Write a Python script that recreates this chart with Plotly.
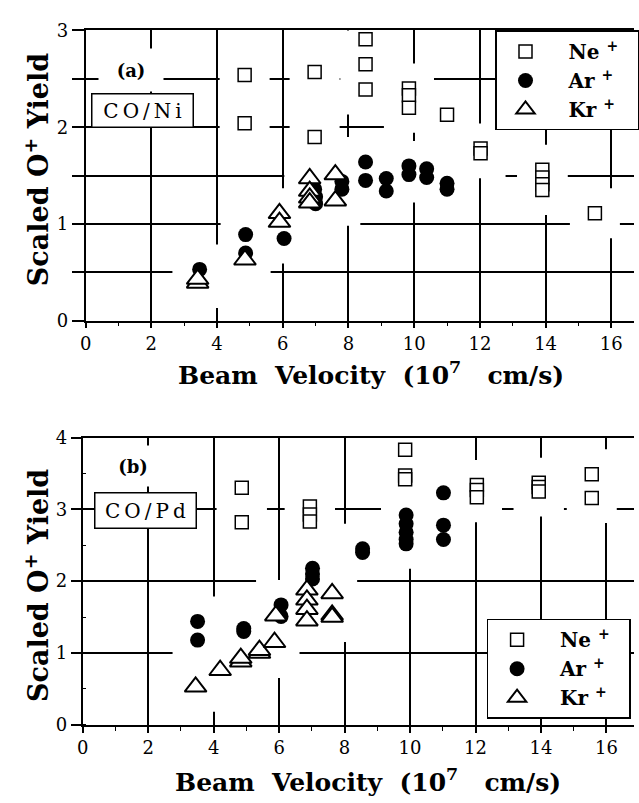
import plotly.graph_objects as go

W, H = 639, 803

# ---------------- data: panel (a) CO/Ni ----------------
ne_a_x = [4.84, 4.84, 6.97, 6.97, 8.52, 8.52, 8.52, 9.84, 9.84, 9.84, 11.0, 12.02, 12.02, 13.9, 13.9, 13.9, 13.9, 15.5]
ne_a_y = [2.54, 2.04, 2.57, 1.90, 2.91, 2.65, 2.39, 2.40, 2.33, 2.20, 2.13, 1.78, 1.73, 1.56, 1.48, 1.41, 1.35, 1.11]

ar_a_x = [3.47, 4.87, 4.87, 6.04, 6.97, 7.0, 7.0, 7.8, 7.8, 8.52, 8.52, 9.15, 9.15, 9.84, 9.84, 10.38, 10.38, 11.0, 11.0]
ar_a_y = [0.53, 0.89, 0.70, 0.85, 1.36, 1.28, 1.21, 1.44, 1.36, 1.64, 1.45, 1.47, 1.34, 1.60, 1.51, 1.57, 1.48, 1.42, 1.36]

kr_a_x = [3.41, 3.41, 4.85, 5.9, 5.9, 6.82, 6.82, 6.82, 6.82, 7.6, 7.6]
kr_a_y = [0.39, 0.43, 0.63, 1.11, 1.02, 1.47, 1.34, 1.27, 1.22, 1.51, 1.24]

# ---------------- data: panel (b) CO/Pd ----------------
ne_b_x = [4.86, 4.86, 6.94, 6.94, 6.94, 9.85, 9.85, 9.85, 12.04, 12.04, 12.04, 13.93, 13.93, 13.93, 15.55, 15.55]
ne_b_y = [3.30, 2.82, 3.04, 2.93, 2.83, 3.83, 3.47, 3.42, 3.34, 3.27, 3.17, 3.37, 3.31, 3.25, 3.49, 3.16]

ar_b_x = [3.51, 3.51, 4.92, 4.92, 6.06, 6.06, 7.02, 7.02, 7.02, 8.55, 8.55, 9.88, 9.88, 9.88, 9.88, 9.88, 11.02, 11.02, 11.02]
ar_b_y = [1.44, 1.18, 1.34, 1.30, 1.67, 1.51, 2.18, 2.10, 2.03, 2.45, 2.40, 2.92, 2.80, 2.68, 2.58, 2.52, 3.23, 2.78, 2.58]

kr_b_x = [3.45, 4.2, 4.83, 4.83, 5.4, 5.4, 5.86, 5.9, 6.85, 6.85, 6.85, 6.85, 7.62, 7.62, 7.62]
kr_b_y = [0.53, 0.76, 0.88, 0.93, 1.00, 1.04, 1.15, 1.52, 1.88, 1.74, 1.61, 1.45, 1.83, 1.53, 1.50]

series_names = ["Ne", "Ar", "Kr"]
x_ticks = [0, 2, 4, 6, 8, 10, 12, 14, 16]

SERIF = "DejaVu Serif"
NB = "\u00a0"
TS = "\u2009"

fig = go.Figure()

# white "halos" that interrupt the grid around the data (as in the original)
for xs, ys, xa, ya in [
    (ne_a_x + ar_a_x + kr_a_x, ne_a_y + ar_a_y + kr_a_y, "x", "y"),
    (ne_b_x + ar_b_x + kr_b_x, ne_b_y + ar_b_y + kr_b_y, "x2", "y2"),
]:
    fig.add_trace(go.Scatter(x=xs, y=ys, mode="markers", xaxis=xa, yaxis=ya,
                             marker=dict(symbol="square", size=50, color="white", line=dict(width=0)),
                             hoverinfo="skip", showlegend=False))

styles = {
    "Ne": dict(symbol="square", size=13, color="white", line=dict(color="black", width=1.5)),
    "Ar": dict(symbol="circle", size=15, color="black", line=dict(color="black", width=0)),
    "Kr": dict(symbol="triangle-up", size=19, color="white", line=dict(color="black", width=2)),
}

panel_data = [
    ("x", "y", "legend", [(ne_a_x, ne_a_y), (ar_a_x, ar_a_y), (kr_a_x, kr_a_y)]),
    ("x2", "y2", "legend2", [(ne_b_x, ne_b_y), (ar_b_x, ar_b_y), (kr_b_x, kr_b_y)]),
]
for xa, ya, leg, sets in panel_data:
    for name, (xs, ys) in zip(series_names, sets):
        fig.add_trace(go.Scatter(
            x=xs, y=ys, mode="markers", xaxis=xa, yaxis=ya, legend=leg,
            name=NB + NB + name + NB + "<sup>+</sup>" + NB * 2,
            marker=styles[name], hoverinfo="skip"))

axis_common = dict(showline=True, linecolor="black", linewidth=1.6, zeroline=False,
                   gridcolor="black", gridwidth=1.6, color="black",
                   tickcolor="black", tickwidth=1.6,
                   tickfont=dict(family=SERIF, size=18, color="black"))

legend_font = dict(family=SERIF, size=20, color="black", weight="bold")

fig.update_layout(
    width=W, height=H, margin=dict(l=0, r=0, t=0, b=0),
    paper_bgcolor="white", plot_bgcolor="white",
    xaxis=dict(domain=[81 / W, 1], range=[0, 16.69], anchor="y", mirror=True,
               tickmode="array", tickvals=x_ticks, ticks="outside", ticklen=6, showgrid=True,
               minor=dict(dtick=1, tick0=0, ticks="outside", ticklen=4, tickwidth=1.4, tickcolor="black", showgrid=False),
               **axis_common),
    yaxis=dict(domain=[1 - 318 / H, 1 - 20 / H], range=[0, 3], anchor="x",
               tickmode="linear", tick0=0, dtick=1, ticks="outside", ticklen=12, showgrid=True,
               minor=dict(dtick=0.5, tick0=0, ticks="outside", ticklen=12, tickwidth=1.6, tickcolor="black",
                          showgrid=True, gridcolor="black", gridwidth=1.6),
               **axis_common),
    xaxis2=dict(domain=[78 / W, 1], range=[0, 16.84], anchor="y2", mirror=True,
                tickmode="array", tickvals=x_ticks, ticks="outside", ticklen=6, showgrid=True,
                minor=dict(dtick=1, tick0=0, ticks="outside", ticklen=4, tickwidth=1.4, tickcolor="black", showgrid=False),
                **axis_common),
    yaxis2=dict(domain=[1 - 733 / H, 1 - 438 / H], range=[0, 4], anchor="x2",
                tickmode="linear", tick0=0, dtick=1, ticks="outside", ticklen=10, showgrid=True,
                minor=dict(dtick=0.5, tick0=0, ticks="inside", ticklen=4, tickwidth=1.4, tickcolor="black", showgrid=False),
                **axis_common),
    legend=dict(x=498 / W, xanchor="left", y=1 - 20 / H, yanchor="top",
                bgcolor="white", bordercolor="black", borderwidth=1.5,
                font=legend_font, itemwidth=48, traceorder="normal"),
    legend2=dict(x=489 / W, xanchor="left", y=1 - 624 / H, yanchor="top",
                 bgcolor="white", bordercolor="black", borderwidth=1.5,
                 font=legend_font, itemwidth=48, traceorder="normal"),
)

xtitle = "Beam" + NB * 2 + "Velocity" + NB * 2 + "(10<sup>7</sup>" + NB * 3 + "cm/s)"
ytitle = "Scaled O<sup>+</sup> Yield"
title_font = dict(family=SERIF, size=25, color="black", weight="bold")
ytitle_font = dict(family=SERIF, size=27, color="black", weight="bold")

annotations = [
    dict(text=xtitle, xref="paper", yref="paper", x=371 / W, y=1 - 372 / H, showarrow=False,
         xanchor="center", yanchor="middle", font=title_font),
    dict(text=xtitle, xref="paper", yref="paper", x=368 / W, y=1 - 790 / H, showarrow=False,
         xanchor="center", yanchor="middle", font=title_font),
    dict(text=ytitle, xref="paper", yref="paper", x=31 / W, y=1 - 163 / H, showarrow=False,
         xanchor="center", yanchor="middle", textangle=-90, font=ytitle_font),
    dict(text=ytitle, xref="paper", yref="paper", x=31 / W, y=1 - 590 / H, showarrow=False,
         xanchor="center", yanchor="middle", textangle=-90, font=ytitle_font),
    dict(text="(a)", xref="x", yref="y", x=1.38, y=2.59, showarrow=False, bgcolor="white",
         width=62, height=40, font=dict(family=SERIF, size=18, color="black", weight="bold")),
    dict(text="(b)", xref="x2", yref="y2", x=1.53, y=3.61, showarrow=False, bgcolor="white",
         width=64, height=38, font=dict(family=SERIF, size=18, color="black", weight="bold")),
    dict(text=TS.join("CO/Ni"), xref="x", yref="y", x=1.72, y=2.17, showarrow=False,
         bgcolor="white", bordercolor="black", borderwidth=1.5, borderpad=0, width=100, height=32,
         font=dict(family=SERIF, size=20, color="black")),
    dict(text=TS.join("CO/Pd"), xref="x2", yref="y2", x=1.91, y=2.98, showarrow=False,
         bgcolor="white", bordercolor="black", borderwidth=1.5, borderpad=0, width=100, height=34,
         font=dict(family=SERIF, size=20, color="black")),
]
fig.update_layout(annotations=annotations)

fig.write_html("out.html")
